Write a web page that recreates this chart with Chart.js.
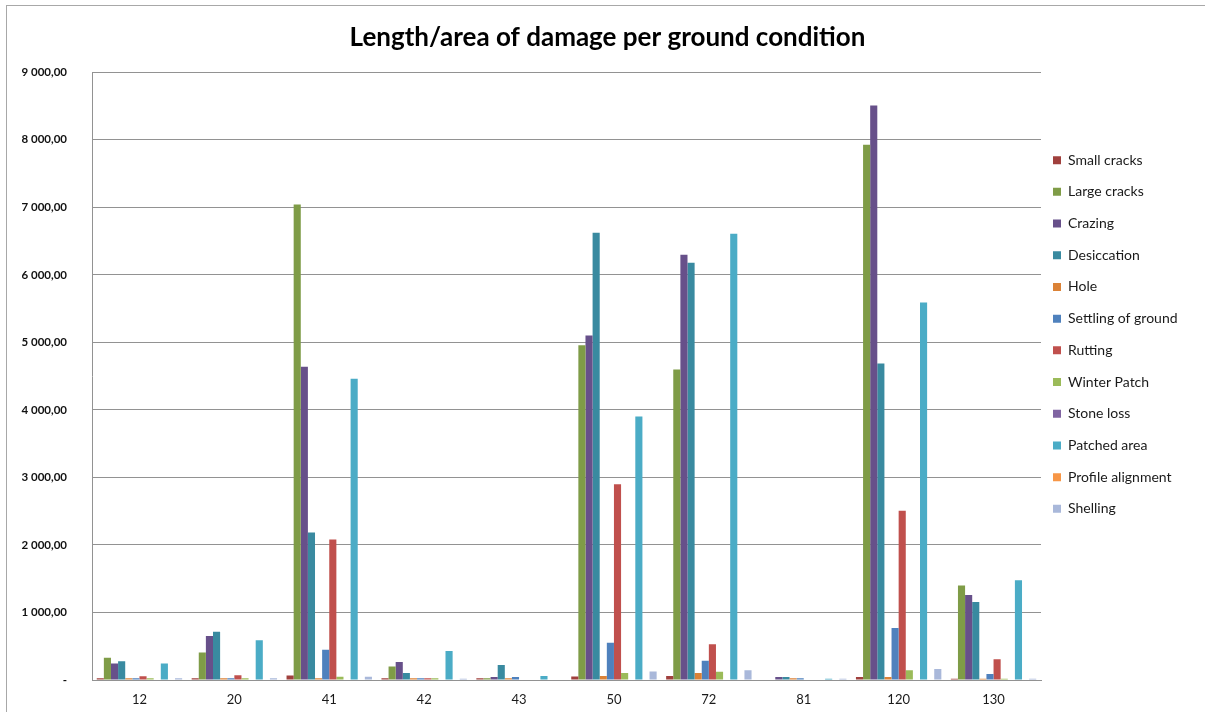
<!DOCTYPE html>
<html>
<head>
<meta charset="utf-8">
<title>Length/area of damage per ground condition</title>
<script src="https://cdn.jsdelivr.net/npm/chart.js@4/dist/chart.umd.min.js"></script>
<style>
  html, body { margin: 0; padding: 0; background: #ffffff; }
  #wrap { width: 1205px; height: 712px; }
</style>
</head>
<body>
<div id="wrap"><canvas id="chart" width="1205" height="712"></canvas></div>
<script>
// Ground condition categories (x axis)
const categories = ['12', '20', '41', '42', '43', '50', '72', '81', '120', '130'];

// Damage length/area per ground condition, one array per damage type
const smallCracks      = [25, 25, 68, 25, 25, 50, 60, 0, 45, 20];
const largeCracks      = [330, 408, 7040, 200, 25, 4955, 4598, 0, 7926, 1398];
const crazing          = [246, 650, 4640, 265, 45, 5100, 6298, 45, 8507, 1258];
const desiccation      = [276, 714, 2184, 105, 222, 6624, 6180, 45, 4685, 1155];
const hole             = [25, 25, 25, 25, 25, 60, 105, 25, 45, 20];
const settlingOfGround = [25, 25, 448, 25, 45, 550, 285, 25, 770, 90];
const rutting          = [54, 69, 2082, 25, 0, 2897, 530, 0, 2505, 308];
const winterPatch      = [25, 25, 49, 25, 0, 105, 123, 0, 143, 20];
const stoneLoss        = [0, 0, 0, 0, 0, 0, 0, 0, 0, 0];
const patchedArea      = [246, 590, 4462, 430, 60, 3902, 6608, 20, 5588, 1476];
const profileAlignment = [0, 0, 0, 0, 0, 0, 0, 0, 0, 0];
const shelling         = [25, 25, 49, 20, 0, 125, 143, 20, 163, 20];

const seriesNames = ['Small cracks', 'Large cracks', 'Crazing', 'Desiccation', 'Hole',
  'Settling of ground', 'Rutting', 'Winter Patch', 'Stone loss', 'Patched area',
  'Profile alignment', 'Shelling'];
const seriesValues = [smallCracks, largeCracks, crazing, desiccation, hole,
  settlingOfGround, rutting, winterPatch, stoneLoss, patchedArea,
  profileAlignment, shelling];
const seriesColors = ['#A0403D', '#7F9C47', '#67508A', '#398AA0', '#DB8237',
  '#4F81BD', '#C0504D', '#9BBB59', '#8064A2', '#4BACC6', '#F79646', '#A9B8DA'];

// Y axis tick values
const yTickMin = 0;
const yTickMax = 9000;
const yTickStep = 1000;

// "9 000,00" style, zero shown as a dash
function formatAmount(v) {
  if (v === 0) return '-';
  const parts = v.toFixed(2).split('.');
  return parts[0].replace(/\B(?=(\d{3})+(?!\d))/g, ' ') + ',' + parts[1];
}

const datasets = seriesNames.map((name, i) => ({
  label: name,
  data: seriesValues[i],
  backgroundColor: seriesColors[i],
  borderWidth: 0,
  categoryPercentage: 0.9,
  barPercentage: 1.0
}));

// White page with the thin gray frame around the chart
const framePlugin = {
  id: 'frame',
  beforeDraw(chart) {
    const ctx = chart.ctx;
    ctx.save();
    ctx.fillStyle = '#ffffff';
    ctx.fillRect(0, 0, chart.width, chart.height);
    ctx.strokeStyle = '#a8a8a8';
    ctx.lineWidth = 1;
    ctx.strokeRect(6.5, 5.5, chart.width + 20, chart.height + 20);
    ctx.restore();
  }
};

// Moves the legend block next to the plot area and centres the title on the frame
const boxNudge = {
  id: 'boxNudge',
  afterLayout(chart, args, opts) {
    const lg = chart.legend;
    if (lg) {
      lg.left += opts.legendDx;
      lg.right = chart.width;
      lg.top += opts.legendDy;
      lg.bottom += opts.legendDy;
    }
    const tb = chart.titleBlock;
    if (tb) {
      tb.left = 0;
      tb.right = chart.width + opts.titleExtraRight;
    }
  }
};

Chart.defaults.font.family = 'Lato, "Open Sans", sans-serif';

new Chart(document.getElementById('chart'), {
  type: 'bar',
  data: { labels: categories, datasets },
  plugins: [framePlugin, boxNudge],
  options: {
    responsive: false,
    animation: false,
    devicePixelRatio: 1,
    layout: { padding: { top: 0, left: 0, right: 44, bottom: 0 } },
    scales: {
      x: {
        grid: { display: false, drawTicks: false },
        border: { display: true, color: '#929292', width: 1 },
        ticks: { color: '#1a1a1a', font: { size: 13 }, padding: 12 },
        afterFit(scale) { scale.height = 32; }
      },
      y: {
        min: yTickMin,
        max: yTickMax,
        grid: { color: '#929292', lineWidth: 1, drawTicks: false },
        border: { display: true, color: '#929292', width: 1 },
        ticks: {
          stepSize: yTickStep,
          color: '#111111',
          font: { size: 11.5, weight: 'bold' },
          padding: 25,
          callback: (v) => formatAmount(v)
        },
        afterFit(scale) { scale.width = 92; }
      }
    },
    plugins: {
      title: {
        display: true,
        text: 'Length/area of damage per ground condition',
        color: '#000000',
        font: { size: 26, weight: 'bold' },
        padding: { top: 22, bottom: 19 }
      },
      legend: {
        position: 'right',
        align: 'center',
        maxWidth: 120,
        labels: {
          boxWidth: 8,
          boxHeight: 8,
          padding: 17.7,
          color: '#1a1a1a',
          font: { size: 14 }
        }
      },
      boxNudge: { legendDx: -5.7, legendDy: -21.5, titleExtraRight: 10 },
      tooltip: { enabled: false }
    }
  }
});
</script>
</body>
</html>
